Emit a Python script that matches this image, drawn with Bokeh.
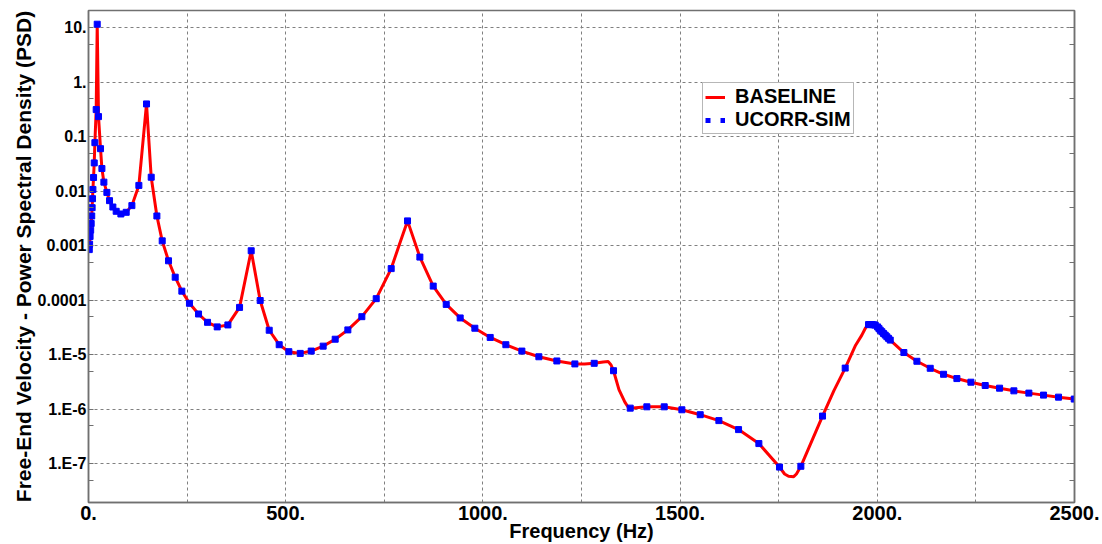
from bokeh.plotting import figure
from bokeh.models import (Range1d, LogAxis, FixedTicker, CustomJSTickFormatter,
                          Legend, LegendItem)
from bokeh.embed import file_html
from bokeh.resources import INLINE

# ---------------- data ----------------
sim_freq = [2, 2.8, 4, 5.5, 6.8, 8.2, 9.2, 10.2, 11.2, 12.8, 14.5, 16.2, 19.5, 22.1, 25.4,
            30.5, 34, 39, 46.6, 53.3, 61.8, 70.2, 82.1, 95.6, 110, 127.7, 147.1, 159,
            173.4, 186.9, 202.9, 219.8, 236.7, 256, 279, 301.8, 326.3, 353.4, 383, 412.5,
            435.3, 458.2, 483.5, 508, 536.8, 564.7, 595, 625.5, 657.6, 693.1, 729.5, 767.5,
            808.9, 840.2, 874, 907, 942.4, 979.6, 1018.5, 1058.2, 1098.8, 1141.9, 1187.5,
            1233.2, 1282.2, 1331.2, 1373.5, 1415.7, 1459.7, 1504.5, 1551, 1598.3, 1648.2,
            1699.7, 1752.1, 1806.2, 1861.1, 1918.6, 1977.8, 1982, 1986.2, 1990.5, 1994.7,
            2000.6, 2004, 2007.4, 2011.6, 2015.8, 2020, 2024.3, 2028.5, 2032.8, 2067.4,
            2100.4, 2134.2, 2168, 2201.8, 2237.3, 2273.6, 2310, 2346.3, 2384.3, 2421.5,
            2459.5, 2499.3]
sim_psd = [8.5e-4, 1.07e-3, 1.48e-3, 1.93e-3, 2.56e-3, 3.52e-3, 5.0e-3, 7.3e-3, 0.0108,
           0.0179, 0.0331, 0.0778, 0.315, 11.6, 0.234, 0.0604, 0.0261, 0.0147, 0.00953,
           0.00673, 0.00514, 0.00429, 0.00383, 0.00411, 0.00545, 0.0128, 0.40, 0.0181,
           0.00352, 0.00123, 5.3e-4, 2.65e-4, 1.47e-4, 8.8e-5, 5.6e-5, 3.94e-5, 3.25e-5,
           3.53e-5, 7.4e-5, 8.1e-4, 9.9e-5, 2.82e-5, 1.53e-5, 1.14e-5, 1.06e-5, 1.17e-5,
           1.44e-5, 1.93e-5, 2.86e-5, 5.0e-5, 1.07e-4, 3.81e-4, 2.86e-3, 6.2e-4, 1.82e-4,
           8.4e-5, 4.74e-5, 3.07e-5, 2.08e-5, 1.53e-5, 1.17e-5, 9.2e-6, 7.7e-6, 6.8e-6,
           6.97e-6, 5.1e-6, 1.05e-6, 1.11e-6, 1.11e-6, 9.8e-7, 7.96e-7, 6.2e-7, 4.24e-7,
           2.35e-7, 8.7e-8, 9.0e-8, 7.5e-7, 5.7e-6, 3.58e-5, 3.58e-5, 3.58e-5, 3.55e-5,
           3.5e-5, 3.25e-5, 3.05e-5, 2.83e-5, 2.65e-5, 2.46e-5, 2.3e-5, 2.14e-5, 2.0e-5,
           1.86e-5, 1.1e-5, 7.6e-6, 5.65e-6, 4.39e-6, 3.66e-6, 3.14e-6, 2.73e-6, 2.44e-6,
           2.18e-6, 1.98e-6, 1.82e-6, 1.67e-6, 1.54e-6]

base_freq = [2, 2.8, 4, 5.5, 6.8, 8.2, 9.2, 10.2, 11.2, 12.8, 14.5, 16.2, 19.5, 22.1, 25.4,
             30.5, 34, 39, 46.6, 53.3, 61.8, 70.2, 82.1, 95.6, 110, 127.7, 147.1, 159,
             173.4, 186.9, 202.9, 219.8, 236.7, 256, 279, 301.8, 326.3, 353.4, 383, 412.5,
             435.3, 458.2, 483.5, 508, 536.8, 564.7, 595, 625.5, 657.6, 693.1, 729.5, 767.5,
             790, 808.9, 840.2, 874, 907, 942.4, 979.6, 1018.5, 1058.2, 1098.8, 1141.9,
             1187.5, 1233.2, 1258, 1282.2, 1305, 1318, 1325, 1331.2, 1345, 1360, 1368,
             1373.5, 1415.7, 1459.7, 1504.5, 1551, 1598.3, 1648.2, 1699.7, 1752.1, 1765,
             1775, 1788, 1795, 1806.2, 1861.1, 1890, 1918.6, 1945, 1960.8, 1970, 1977.8,
             1986.2, 1994.7, 2000.6, 2007.4, 2015.8, 2024.3, 2032.8, 2067.4, 2100.4, 2134.2,
             2168, 2201.8, 2237.3, 2273.6, 2310, 2346.3, 2384.3, 2421.5, 2459.5, 2499.3]
base_psd = [8.5e-4, 1.07e-3, 1.48e-3, 1.93e-3, 2.56e-3, 3.52e-3, 5.0e-3, 7.3e-3, 0.0108,
            0.0179, 0.0331, 0.0778, 0.315, 11.6, 0.234, 0.0604, 0.0261, 0.0147, 0.00953,
            0.00673, 0.00514, 0.00429, 0.00383, 0.00411, 0.00545, 0.0128, 0.40, 0.0181,
            0.00352, 0.00123, 5.3e-4, 2.65e-4, 1.47e-4, 8.8e-5, 5.6e-5, 3.94e-5, 3.25e-5,
            3.53e-5, 7.4e-5, 8.1e-4, 9.9e-5, 2.82e-5, 1.53e-5, 1.14e-5, 1.06e-5, 1.17e-5,
            1.44e-5, 1.93e-5, 2.86e-5, 5.0e-5, 1.07e-4, 3.81e-4, 1.15e-3, 2.86e-3, 6.2e-4,
            1.82e-4, 8.4e-5, 4.74e-5, 3.07e-5, 2.08e-5, 1.53e-5, 1.17e-5, 9.2e-6, 7.7e-6,
            6.8e-6, 6.75e-6, 6.97e-6, 7.4e-6, 7.5e-6, 6.5e-6, 5.1e-6, 2.3e-6, 1.35e-6,
            1.1e-6, 1.05e-6, 1.11e-6, 1.11e-6, 9.8e-7, 7.96e-7, 6.2e-7, 4.24e-7, 2.35e-7,
            8.7e-8, 6.5e-8, 5.9e-8, 5.8e-8, 6.5e-8, 9.0e-8, 7.5e-7, 2.2e-6, 5.7e-6, 1.5e-5,
            2.29e-5, 3.1e-5, 3.58e-5, 3.58e-5, 3.5e-5, 3.25e-5, 2.83e-5, 2.46e-5, 2.14e-5,
            1.86e-5, 1.1e-5, 7.6e-6, 5.65e-6, 4.39e-6, 3.66e-6, 3.14e-6, 2.73e-6, 2.44e-6,
            2.18e-6, 1.98e-6, 1.82e-6, 1.67e-6, 1.54e-6]

xtick_values = [0, 500, 1000, 1500, 2000, 2500]
xtick_labels = ["0.", "500.", "1000.", "1500.", "2000.", "2500."]
xgrid_values = [250, 500, 750, 1000, 1250, 1500, 1750, 2000, 2250]
ytick_values = [1e-7, 1e-6, 1e-5, 1e-4, 1e-3, 1e-2, 1e-1, 1e0, 1e1]
ytick_labels = ["1.E-7", "1.E-6", "1.E-5", "0.0001", "0.001", "0.01", "0.1", "1.", "10."]
yminor_values = [5e-8, 5e-7, 5e-6, 5e-5, 5e-4, 5e-3, 5e-2, 5e-1, 5e0]

FONT = "Liberation Sans"
GRAY = "#707070"

p = figure(width=1102, height=544, y_axis_type="log",
           x_range=Range1d(0, 2500), y_range=Range1d(1.95e-8, 20.7),
           output_backend="svg", toolbar_location=None,
           min_border_left=88, min_border_right=28, min_border_top=10,
           min_border_bottom=39)
p.background_fill_color = "white"
p.border_fill_color = "white"
p.outline_line_color = GRAY
p.outline_line_width = 1.5

xfmt = CustomJSTickFormatter(args=dict(vals=xtick_values, labs=xtick_labels), code="""
let best = 0, bd = Infinity;
for (let i = 0; i < vals.length; i++) { const d = Math.abs(vals[i] - tick); if (d < bd) { bd = d; best = i; } }
return bd < 1e-6 ? labs[best] : "";
""")
yfmt = CustomJSTickFormatter(args=dict(vals=ytick_values, labs=ytick_labels), code="""
let best = 0, bd = Infinity;
for (let i = 0; i < vals.length; i++) { const d = Math.abs(Math.log10(vals[i]) - Math.log10(tick)); if (d < bd) { bd = d; best = i; } }
return bd < 1e-6 ? labs[best] : "";
""")

xa = p.xaxis[0]
xa.ticker = FixedTicker(ticks=xtick_values)
xa.formatter = xfmt
xa.major_label_text_font = FONT
xa.major_label_text_font_style = "bold"
xa.major_label_text_font_size = "20px"
xa.major_label_text_color = "black"
xa.major_label_standoff = 3
xa.major_tick_in = 0
xa.major_tick_out = 0
xa.minor_tick_in = 0
xa.minor_tick_out = 0
xa.axis_line_color = GRAY
xa.axis_line_width = 1.5
xa.axis_label = "Frequency (Hz)"
xa.axis_label_text_font = FONT
xa.axis_label_text_font_style = "bold"
xa.axis_label_text_font_size = "20px"
xa.axis_label_text_color = "black"
xa.axis_label_standoff = -3

yticker = FixedTicker(ticks=ytick_values, minor_ticks=yminor_values)
ya = p.yaxis[0]
ya.ticker = yticker
ya.formatter = yfmt
ya.major_label_text_font = FONT
ya.major_label_text_font_style = "bold"
ya.major_label_text_font_size = "16px"
ya.major_label_text_color = "black"
ya.major_label_standoff = 2
ya.major_tick_in = 5
ya.major_tick_out = 0
ya.minor_tick_in = 5
ya.minor_tick_out = 0
ya.major_tick_line_color = GRAY
ya.minor_tick_line_color = GRAY
ya.axis_line_color = GRAY
ya.axis_line_width = 1.5
ya.axis_label = "Free-End Velocity - Power Spectral Density (PSD)"
ya.axis_label_text_font = FONT
ya.axis_label_text_font_style = "bold"
ya.axis_label_text_font_size = "21px"
ya.axis_label_text_color = "black"
ya.axis_label_standoff = 0

blank = CustomJSTickFormatter(code="return '';")
ra = LogAxis(ticker=yticker, formatter=blank)
ra.major_label_standoff = 0
ra.major_tick_in = 5
ra.major_tick_out = 0
ra.minor_tick_in = 5
ra.minor_tick_out = 0
ra.major_tick_line_color = GRAY
ra.minor_tick_line_color = GRAY
ra.axis_line_color = GRAY
ra.axis_line_width = 1.5
p.add_layout(ra, "right")

p.xgrid.ticker = FixedTicker(ticks=xgrid_values)
for g in (p.xgrid[0], p.ygrid[0]):
    g.grid_line_color = "#808080"
    g.grid_line_dash = "3 3"
    g.grid_line_width = 1

base = p.line(base_freq, base_psd, line_color="#ff0000", line_width=3)
sim = p.scatter(sim_freq, sim_psd, marker="square", size=6,
                fill_color="#0000ff", line_color="#0000ff")
# one-point line: draws nothing on the plot, gives the dotted legend key
sim_key = p.line(x=sim_freq[:1], y=sim_psd[:1], line_color="#0000ff",
                 line_width=5, line_dash="5 10")

legend = Legend(items=[LegendItem(label="BASELINE", renderers=[base]),
                       LegendItem(label="UCORR-SIM", renderers=[sim_key])],
                location=(614, 368), orientation="vertical")
legend.label_text_font = FONT
legend.label_text_font_style = "bold"
legend.label_text_font_size = "20px"
legend.label_text_color = "black"
legend.label_height = 20
legend.glyph_height = 20
legend.glyph_width = 20
legend.label_standoff = 10
legend.padding = 2
legend.spacing = 0
legend.margin = 0
legend.border_line_color = GRAY
legend.border_line_width = 1.5
legend.background_fill_color = "white"
legend.background_fill_alpha = 1
p.add_layout(legend)

open("out.html", "w").write(file_html(p, INLINE))
